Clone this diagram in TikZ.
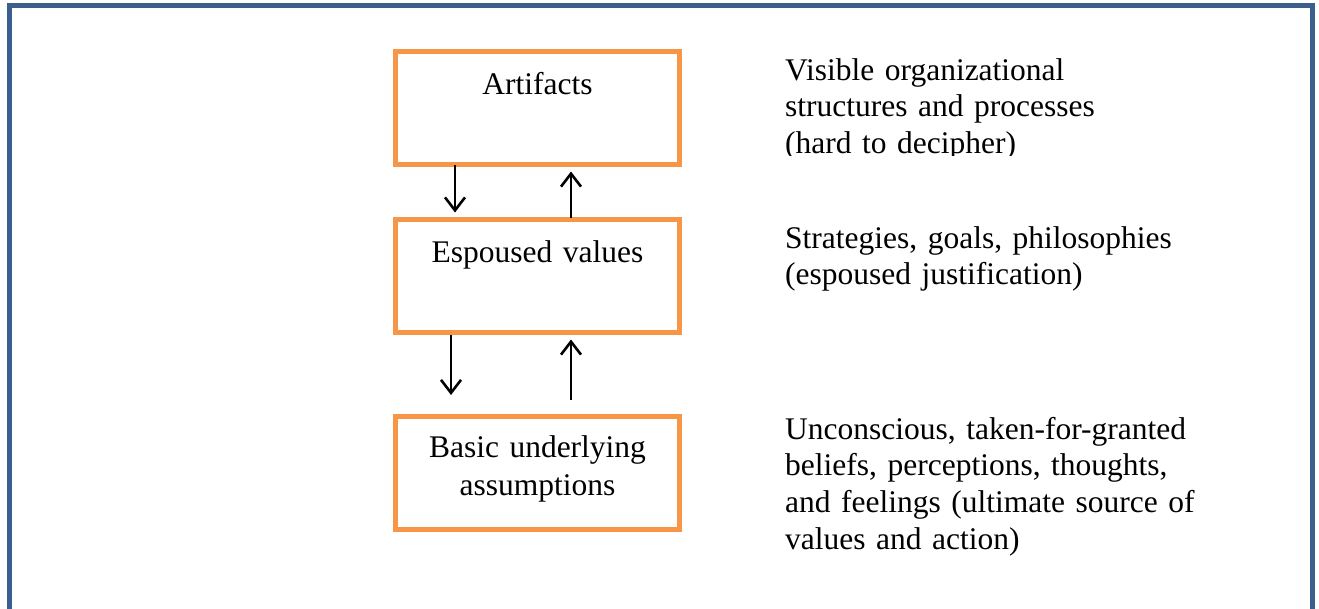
\documentclass[tikz,border=0pt]{standalone}
\usepackage{fontspec}
\setmainfont{Liberation Serif}
\usetikzlibrary{arrows.meta}
\definecolor{frameblue}{HTML}{3A5F8F}
\definecolor{boxorange}{HTML}{F79646}
\begin{document}
\begin{tikzpicture}[x=1pt,y=-1pt,
  layer/.style={draw=boxorange, line width=5pt, minimum width=284pt, minimum height=113pt, inner sep=0pt},
  lbl/.style={font=\fontsize{31.5}{38}\selectfont, inner sep=0pt, anchor=base, text width=284pt, align=center},
  desc/.style={font=\fontsize{31.5}{36.7}\selectfont, inner sep=0pt, anchor=base west, text width=500pt, align=left},
  arr/.style={line width=2.6pt, -{Straight Barb[length=13pt,width=20pt,line width=2.6pt]}}]
\useasboundingbox (0,0) rectangle (1319,608);
\draw[frameblue, line width=5pt] (9.5,615) -- (9.5,5.5) -- (1312.5,5.5) -- (1312.5,615);
% layers
\node[layer] (art) at (537.5,108) {};
\node[layer] (esp) at (537.5,276) {};
\node[layer] (bas) at (537.5,472.5) {};
\node[lbl] (artt) at (537.5,94) {Artifacts};
\node[lbl] (espt) at (537.5,262) {Espoused values};
\node[lbl] (bast) at (537.5,457) {Basic underlying\\assumptions};
% arrows
\draw[arr] ([xshift=-82.5pt,yshift=2pt]art.south) -- ([xshift=-82.5pt,yshift=4.5pt]esp.north);
\draw[arr] ([xshift=33.5pt,yshift=-0.5pt]esp.north) -- ([xshift=33.5pt,yshift=-4.5pt]art.south);
\draw[arr] ([xshift=-86.5pt]esp.south) -- ([xshift=-86.5pt,yshift=18.5pt]bas.north);
\draw[arr] ([xshift=33.5pt,yshift=13.5pt]bas.north) -- ([xshift=33.5pt,yshift=-4.5pt]esp.south);
% descriptions
\begin{scope}
\clip (700,0) rectangle (1300,155);
\node[desc] (artd) at (785,80) {Visible organizational\\structures and processes\\(hard to decipher)};
\end{scope}
\node[desc] (espd) at (785,248) {Strategies, goals, philosophies\\(espoused justification)};
\node[desc] (basd) at (785,439) {Unconscious, taken-for-granted\\beliefs, perceptions, thoughts,\\and feelings (ultimate source of\\values and action)};
\end{tikzpicture}
\end{document}
